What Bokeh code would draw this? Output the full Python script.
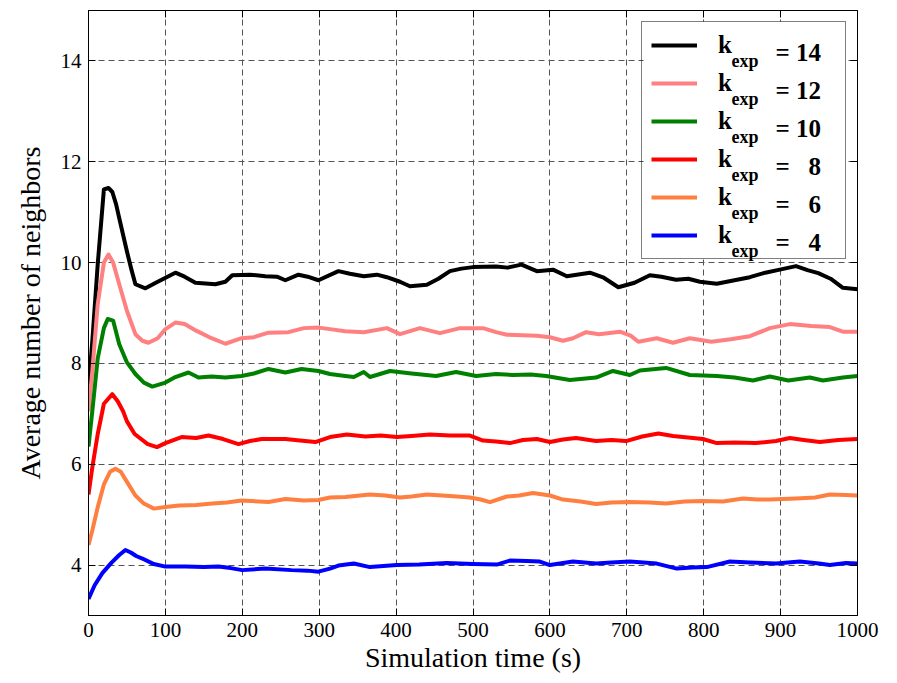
from bokeh.plotting import figure
from bokeh.models import (Range1d, FixedTicker, LinearAxis, Legend, LegendItem, Label, BoxAnnotation)
from bokeh.embed import file_html
from bokeh.resources import INLINE

# ---------------- data ----------------
x_ticks = [0, 100, 200, 300, 400, 500, 600, 700, 800, 900, 1000]
y_ticks = [4, 6, 8, 10, 12, 14]

t_k14 = [0, 5, 12, 20, 26, 31, 36, 40, 50, 56, 61, 74, 90, 113, 125, 139, 165, 178, 187, 210, 230, 245, 256,
         273, 285, 299, 325, 340, 358, 375, 388, 405, 418, 440, 455, 470, 485, 500, 530, 545, 563, 583, 604,
         622, 652, 670, 689, 710, 730, 745, 764, 780, 795, 817, 840, 860, 880, 899, 920, 935, 949, 965, 981, 1000]
v_k14 = [7.5, 8.45, 9.97, 11.45, 11.48, 11.4, 11.15, 10.88, 10.22, 9.85, 9.57, 9.49, 9.62, 9.80, 9.72, 9.60,
         9.57, 9.62, 9.75, 9.76, 9.73, 9.72, 9.65, 9.76, 9.72, 9.65, 9.83, 9.78, 9.73, 9.76, 9.71, 9.62, 9.53,
         9.56, 9.68, 9.83, 9.88, 9.91, 9.92, 9.90, 9.96, 9.83, 9.86, 9.73, 9.80, 9.70, 9.51, 9.60, 9.75, 9.72,
         9.66, 9.68, 9.62, 9.58, 9.65, 9.71, 9.80, 9.86, 9.93, 9.85, 9.79, 9.68, 9.50, 9.47]

t_k12 = [0, 5, 12, 20, 26, 32, 40, 50, 61, 70, 78, 90, 100, 113, 125, 140, 160, 178, 199, 215, 234, 260, 280,
         299, 314, 334, 358, 388, 405, 431, 457, 483, 513, 530, 544, 583, 600, 617, 630, 647, 664, 691, 705,
         715, 739, 760, 782, 810, 835, 860, 886, 912, 940, 964, 981, 1000]
v_k12 = [7.05, 7.85, 9.18, 10.0, 10.16, 10.0, 9.57, 9.04, 8.58, 8.45, 8.41, 8.50, 8.68, 8.81, 8.78, 8.65, 8.50,
         8.39, 8.50, 8.52, 8.61, 8.62, 8.70, 8.71, 8.68, 8.64, 8.62, 8.70, 8.58, 8.70, 8.60, 8.70, 8.70, 8.62,
         8.57, 8.55, 8.52, 8.45, 8.50, 8.62, 8.58, 8.63, 8.55, 8.43, 8.50, 8.41, 8.50, 8.43, 8.48, 8.54, 8.70,
         8.78, 8.74, 8.72, 8.63, 8.63]

t_k10 = [0, 5, 12, 20, 25, 32, 40, 50, 61, 72, 83, 100, 113, 130, 143, 160, 178, 199, 215, 234, 256, 277, 299,
         314, 334, 345, 358, 366, 392, 420, 452, 478, 504, 530, 552, 575, 595, 626, 660, 682, 704, 717, 751,
         782, 817, 840, 864, 886, 910, 938, 955, 981, 1000]
v_k10 = [6.35, 7.06, 8.1, 8.7, 8.88, 8.85, 8.38, 8.02, 7.79, 7.62, 7.54, 7.62, 7.73, 7.82, 7.72, 7.74, 7.72,
         7.75, 7.80, 7.89, 7.82, 7.89, 7.85, 7.79, 7.75, 7.73, 7.83, 7.73, 7.85, 7.80, 7.75, 7.83, 7.75, 7.79,
         7.77, 7.78, 7.75, 7.67, 7.72, 7.85, 7.77, 7.86, 7.91, 7.77, 7.75, 7.72, 7.66, 7.74, 7.66, 7.72, 7.66,
         7.72, 7.75]

t_k8 = [0, 5, 12, 20, 31, 38, 45, 50, 60, 65, 77, 89, 100, 121, 140, 156, 175, 195, 210, 225, 256, 275, 295,
        314, 336, 360, 380, 401, 420, 444, 470, 496, 513, 530, 548, 565, 583, 600, 617, 634, 660, 680, 699,
        720, 741, 760, 773, 799, 817, 840, 868, 894, 912, 930, 951, 975, 1000]
v_k8 = [5.4, 5.94, 6.6, 7.2, 7.39, 7.25, 7.05, 6.85, 6.6, 6.54, 6.40, 6.34, 6.42, 6.54, 6.52, 6.57, 6.50,
        6.40, 6.46, 6.50, 6.50, 6.47, 6.44, 6.54, 6.59, 6.55, 6.57, 6.54, 6.56, 6.59, 6.57, 6.57, 6.47, 6.45,
        6.42, 6.48, 6.50, 6.44, 6.49, 6.52, 6.46, 6.48, 6.46, 6.55, 6.61, 6.56, 6.54, 6.50, 6.42, 6.43, 6.42,
        6.46, 6.52, 6.48, 6.44, 6.48, 6.50]

t_k6 = [0, 5, 12, 20, 28, 35, 42, 50, 61, 72, 85, 100, 118, 140, 161, 180, 199, 234, 256, 280, 299, 314, 334,
        366, 386, 405, 420, 440, 470, 496, 510, 522, 544, 560, 578, 600, 617, 640, 660, 680, 704, 730, 751,
        775, 799, 825, 851, 870, 886, 920, 945, 964, 985, 1000]
v_k6 = [4.4, 4.69, 5.15, 5.6, 5.85, 5.91, 5.85, 5.65, 5.38, 5.22, 5.12, 5.15, 5.18, 5.19, 5.22, 5.24, 5.28,
        5.25, 5.31, 5.28, 5.29, 5.34, 5.35, 5.40, 5.38, 5.34, 5.36, 5.40, 5.37, 5.34, 5.30, 5.25, 5.36, 5.38,
        5.43, 5.38, 5.30, 5.26, 5.21, 5.24, 5.25, 5.24, 5.22, 5.26, 5.27, 5.26, 5.32, 5.30, 5.30, 5.32, 5.34,
        5.40, 5.39, 5.38]

t_k4 = [0, 8, 18, 30, 40, 48, 55, 62, 70, 85, 100, 126, 150, 169, 185, 200, 230, 264, 285, 299, 314, 325, 345,
        366, 401, 430, 466, 500, 531, 548, 570, 587, 600, 630, 660, 680, 704, 739, 765, 785, 804, 834, 860,
        894, 925, 950, 964, 985, 1000]
v_k4 = [3.33, 3.6, 3.84, 4.05, 4.2, 4.30, 4.25, 4.18, 4.13, 4.02, 3.97, 3.97, 3.96, 3.97, 3.94, 3.90, 3.93,
        3.90, 3.89, 3.87, 3.93, 3.99, 4.03, 3.96, 4.00, 4.01, 4.04, 4.02, 4.01, 4.09, 4.08, 4.07, 4.00, 4.07,
        4.03, 4.05, 4.07, 4.03, 3.93, 3.95, 3.96, 4.07, 4.05, 4.03, 4.07, 4.03, 4.00, 4.04, 4.03]

k_values = ["14", "12", "10", "8", "6", "4"]
colors = ["#000000", "#FF8080", "#008000", "#FF0000", "#FF7F40", "#0000FF"]

series = [(t_k14, v_k14), (t_k12, v_k12), (t_k10, v_k10), (t_k8, v_k8), (t_k6, v_k6), (t_k4, v_k4)]

# ---------------- figure ----------------
FONT = "Liberation Serif"
FRAME_W, FRAME_H = 769, 605

p = figure(frame_width=FRAME_W, frame_height=FRAME_H, output_backend="svg", toolbar_location=None,
           x_range=Range1d(0, 1000), y_range=Range1d(3, 15),
           min_border_left=88, min_border_right=32, min_border_top=10, min_border_bottom=60)
p.background_fill_color = "white"
p.border_fill_color = "white"
p.outline_line_color = "black"
p.outline_line_width = 1

for ax, ticks in ((p.xaxis[0], x_ticks), (p.yaxis[0], y_ticks)):
    ax.ticker = FixedTicker(ticks=ticks)
    ax.major_tick_in = 7
    ax.major_tick_out = 0
    ax.minor_tick_line_color = None
    ax.axis_line_color = "black"
    ax.major_tick_line_color = "black"
    ax.major_label_text_font = FONT
    ax.major_label_text_font_size = "21px"
    ax.major_label_text_color = "black"
    ax.major_label_standoff = 7
    ax.axis_label_text_font = FONT
    ax.axis_label_text_font_size = "28px"
    ax.axis_label_text_font_style = "normal"
    ax.axis_label_text_color = "black"

p.xaxis[0].axis_label = "Simulation time (s)"
p.xaxis[0].axis_label_standoff = 2
p.yaxis[0].axis_label = "Average number of neighbors"
p.yaxis[0].axis_label_standoff = 12

# mirrored tick marks on the top and right frame edges (no labels)
for side, ticks in (("above", x_ticks), ("right", y_ticks)):
    ax = LinearAxis(ticker=FixedTicker(ticks=ticks))
    ax.major_tick_in = 7
    ax.major_tick_out = 0
    ax.minor_tick_line_color = None
    ax.major_label_overrides = {t: "" for t in ticks}
    ax.major_label_text_font_size = "0px"
    ax.major_label_standoff = 0
    ax.axis_line_color = "black"
    p.add_layout(ax, side)

for g in (p.xgrid[0], p.ygrid[0]):
    g.grid_line_color = "#555555"
    g.grid_line_dash = "6 4"
    g.grid_line_width = 1
p.xgrid[0].ticker = FixedTicker(ticks=x_ticks)
p.ygrid[0].ticker = FixedTicker(ticks=y_ticks)

renderers = []
for (t, v), c in zip(series, colors):
    r = p.line(t, v, line_color=c, line_width=4, line_join="round")
    renderers.append(r)

# ---------------- legend ----------------
LEG_MARGIN, LEG_PAD, LEG_ROW, LEG_SP = 11, 9, 28, 10
LEG_W = 2 * LEG_PAD + 46 + 21 + 118
LEG_H = 2 * LEG_PAD + 6 * LEG_ROW + 5 * LEG_SP

# opaque white panel under the legend (legend itself is transparent so the texts show)
p.add_layout(BoxAnnotation(left=FRAME_W - LEG_MARGIN - LEG_W, right=FRAME_W - LEG_MARGIN,
                           top=FRAME_H - LEG_MARGIN, bottom=FRAME_H - LEG_MARGIN - LEG_H,
                           left_units="screen", right_units="screen",
                           top_units="screen", bottom_units="screen",
                           fill_color="white", fill_alpha=1.0, line_color=None, level="underlay"))

legend = Legend(items=[LegendItem(label="k", renderers=[r]) for r in renderers],
                location="top_right", margin=LEG_MARGIN, padding=LEG_PAD, spacing=LEG_SP,
                label_height=LEG_ROW, glyph_height=LEG_ROW, glyph_width=46,
                label_standoff=21, label_width=118,
                label_text_font=FONT, label_text_font_style="bold", label_text_font_size="25px",
                label_text_color="black", border_line_color="black", border_line_width=1,
                background_fill_alpha=0.0)
p.add_layout(legend)

# subscript and value parts of the legend entries ("k_exp = N")
row_top = LEG_MARGIN + LEG_PAD
for i, kv in enumerate(k_values):
    center = row_top + LEG_ROW / 2 + i * (LEG_ROW + LEG_SP)
    k_base = center + 8
    sub_base = center + 16
    p.add_layout(Label(x=643, y=FRAME_H - sub_base, x_units="screen", y_units="screen",
                       text="exp", text_font=FONT, text_font_style="bold", text_font_size="18px",
                       text_color="black", text_baseline="alphabetic", text_align="left"))
    eq_text = "= " + kv if len(kv) == 2 else "= \u2002" + kv
    p.add_layout(Label(x=687, y=FRAME_H - k_base, x_units="screen", y_units="screen",
                       text=eq_text, text_font=FONT, text_font_style="bold", text_font_size="25px",
                       text_color="black", text_baseline="alphabetic", text_align="left"))

open("out.html", "w").write(file_html(p, INLINE))
